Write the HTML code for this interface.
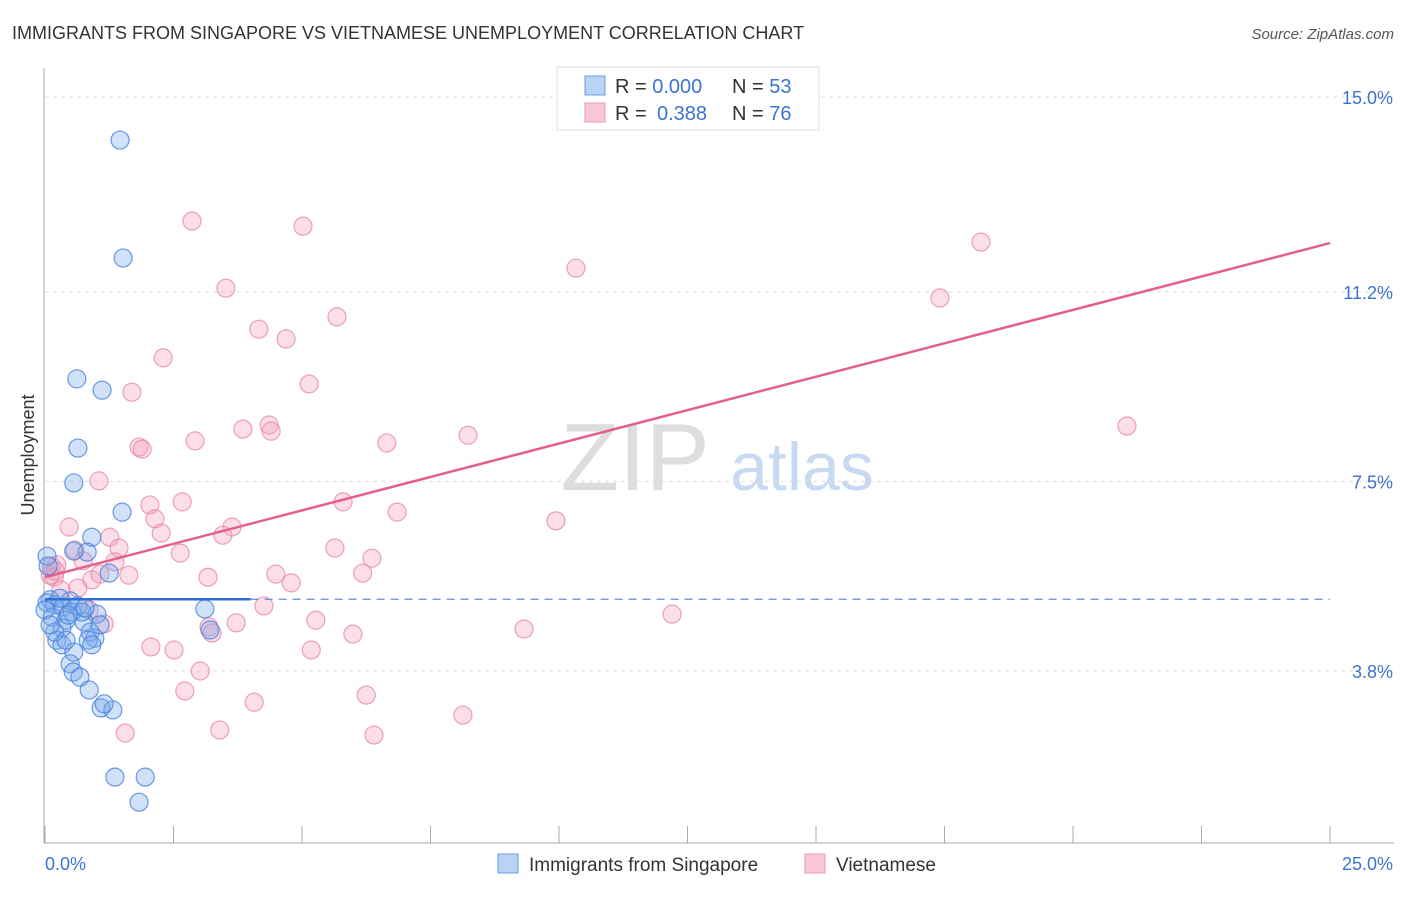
<!DOCTYPE html>
<html><head><meta charset="utf-8"><style>
body{margin:0;background:#fff;font-family:"Liberation Sans",sans-serif;}
svg text{font-family:"Liberation Sans",sans-serif;}
</style></head><body>
<svg id="chart" width="1406" height="892" xmlns="http://www.w3.org/2000/svg">
<text x="12" y="39" font-size="18" fill="#333">IMMIGRANTS FROM SINGAPORE VS VIETNAMESE UNEMPLOYMENT CORRELATION CHART</text>
<text x="1394" y="39" font-size="15" fill="#555" font-style="italic" text-anchor="end">Source: ZipAtlas.com</text>
<text x="635" y="490" font-size="96" fill="#ddd" font-family="Liberation Serif" text-anchor="middle">ZIP</text>
<text x="802" y="490" font-size="68" fill="#c8daf2" text-anchor="middle">atlas</text>
<g id="grid"></g>
<g id="axes"></g>
<g id="marks"></g>
<text transform="translate(34,455) rotate(-90)" font-size="18" fill="#333" text-anchor="middle">Unemployment</text>
<text x="45" y="870" font-size="18" fill="#3a74d1">0.0%</text>
<text x="1393" y="870" font-size="18" fill="#3a74d1" text-anchor="end">25.0%</text>
<g>
<rect x="557" y="67" width="262" height="63" fill="#fff" stroke="#ddd"/>
<rect x="585" y="76" width="20" height="19" fill="#b9d3f5" stroke="#6e9de0"/>
<rect x="585" y="103" width="20" height="19" fill="#f9c8d8" stroke="#ea9ab6"/>
<text x="615" y="93" font-size="20" fill="#333">R = <tspan fill="#3a74d1">0.000</tspan><tspan x="732">N = </tspan><tspan fill="#3a74d1">53</tspan></text>
<text x="615" y="120" font-size="20" fill="#333">R = <tspan fill="#3a74d1" x="657">0.388</tspan><tspan x="732">N = </tspan><tspan fill="#3a74d1">76</tspan></text>
</g>
<g>
<rect x="498" y="854" width="20" height="19" fill="#b9d3f5" stroke="#6e9de0"/>
<text x="529" y="871" font-size="19" fill="#333">Immigrants from Singapore</text>
<rect x="805" y="854" width="20" height="19" fill="#f9c8d8" stroke="#ea9ab6"/>
<text x="836" y="871" font-size="19" fill="#333">Vietnamese</text>
</g>
</svg>
<script>
const yTicks=[15.0,11.2,7.5,3.8];
const yTickLabels=["15.0%","11.2%","7.5%","3.8%"];
const xTicks=[0,2.5,5,7.5,10,12.5,15,17.5,20,22.5,25];
const blueX=[1.46,1.52,0.62,1.11,0.64,0.56,1.50,0.91,0.82,0.56,0.04,1.25,3.11,0.10,0.04,0.19,0.35,0.49,0.64,1.01,0.14,0.41,0.76,0.33,0.88,0.97,0.23,0.84,0.33,0.56,0.49,0.55,0.68,0.86,1.09,1.32,1.15,1.36,1.95,1.83,3.21,0.06,0.29,0.0,0.53,1.07,0.19,0.72,0.41,0.10,0.91,0.45,0.78];
const blueY=[14.16,11.86,9.50,9.28,8.15,7.47,6.90,6.41,6.12,6.14,6.04,5.71,5.01,5.19,5.13,5.09,5.05,5.17,5.07,4.91,4.85,4.79,4.76,4.64,4.56,4.44,4.40,4.40,4.31,4.17,3.94,3.78,3.68,3.43,3.08,3.04,3.16,1.73,1.73,1.24,4.60,5.85,5.22,4.99,4.95,4.70,4.56,4.95,4.40,4.70,4.31,4.89,5.03];
const pinkX=[10.27,2.86,5.02,10.33,18.21,17.41,3.52,5.68,4.16,4.69,2.30,5.14,1.69,4.36,3.85,4.40,2.92,6.65,8.23,1.83,1.89,21.05,1.05,2.67,2.04,5.80,6.85,2.14,0.47,2.26,9.94,3.64,3.46,1.26,1.44,0.58,2.63,5.64,6.36,1.36,0.23,0.74,0.18,1.63,3.17,4.49,6.18,4.79,0.91,1.07,0.64,0.31,4.26,12.20,0.86,5.27,1.15,3.72,3.19,3.25,9.32,5.99,2.06,2.51,5.18,3.02,2.72,6.25,4.07,8.13,1.56,3.40,6.40,0.10,0.12,0.2];
const pinkY=[14.55,12.58,12.48,11.66,12.17,11.08,11.27,10.71,10.47,10.28,9.91,9.40,9.24,8.60,8.52,8.48,8.29,8.25,8.40,8.17,8.13,8.58,7.51,7.10,7.04,7.10,6.90,6.77,6.61,6.49,6.73,6.61,6.45,6.41,6.20,6.16,6.10,6.20,6.00,5.93,5.87,5.95,5.63,5.67,5.63,5.69,5.71,5.52,5.58,5.69,5.42,5.38,5.07,4.91,4.99,4.79,4.72,4.74,4.66,4.54,4.62,4.52,4.27,4.21,4.21,3.80,3.41,3.33,3.19,2.94,2.59,2.65,2.55,5.67,5.85,5.75];
const blueTrend=[5.2,5.2];
const pinkTrend=[5.63,12.15];
const X0=45,X1=1330;
function sx(v){return X0+(X1-X0)*v/25;}
function sy(v){return 97+(15-v)*51.25;}
const NS="http://www.w3.org/2000/svg";
function mk(tag,attrs,parent){const e=document.createElementNS(NS,tag);for(const k in attrs)e.setAttribute(k,attrs[k]);parent.appendChild(e);return e;}
const grid=document.getElementById('grid'),axes=document.getElementById('axes'),marks=document.getElementById('marks');
yTicks.forEach((t,i)=>{
 const l=mk('line',{x1:45,x2:1394,y1:sy(t),y2:sy(t),stroke:'#ddd','stroke-dasharray':'4,4'},grid);
 
 
 const tx=mk('text',{x:1393,y:sy(t)+7,'font-size':18,fill:'#3a74d1','text-anchor':'end'},axes);
 tx.textContent=yTickLabels[i];
 
 
});
const ya=mk('line',{x1:44,x2:44,y1:68,y2:843,stroke:'#aaa'},axes);


const xa=mk('line',{x1:44,x2:1394,y1:843,y2:843,stroke:'#aaa'},axes);


xTicks.forEach(t=>{
 const l=mk('line',{x1:sx(t),x2:sx(t),y1:826,y2:843,stroke:'#aaa'},axes);
 
 
});
pinkX.forEach((x,i)=>{
 const c=mk('circle',{cx:sx(x),cy:sy(pinkY[i]),r:9,fill:'rgba(243,160,188,0.35)',stroke:'rgba(232,130,165,0.75)','stroke-width':1.2},marks);
 
 
});
blueX.forEach((x,i)=>{
 const c=mk('circle',{cx:sx(x),cy:sy(blueY[i]),r:9,fill:'rgba(120,170,235,0.35)',stroke:'rgba(70,130,220,0.8)','stroke-width':1.2},marks);
 
 
});
const bt1=mk('line',{x1:sx(0),x2:sx(4),y1:sy(blueTrend[0]),y2:sy(blueTrend[0]),stroke:'#2f6fd6','stroke-width':2.5},marks);


const bt2=mk('line',{x1:sx(4),x2:sx(25),y1:sy(blueTrend[0]),y2:sy(blueTrend[1]),stroke:'#5b8fe0','stroke-width':1.3,'stroke-dasharray':'8,6'},marks);


const pt=mk('line',{x1:sx(0),x2:sx(25),y1:sy(pinkTrend[0]),y2:sy(pinkTrend[1]),stroke:'#e4608c','stroke-width':2.5},marks);


</script>
</body></html>
